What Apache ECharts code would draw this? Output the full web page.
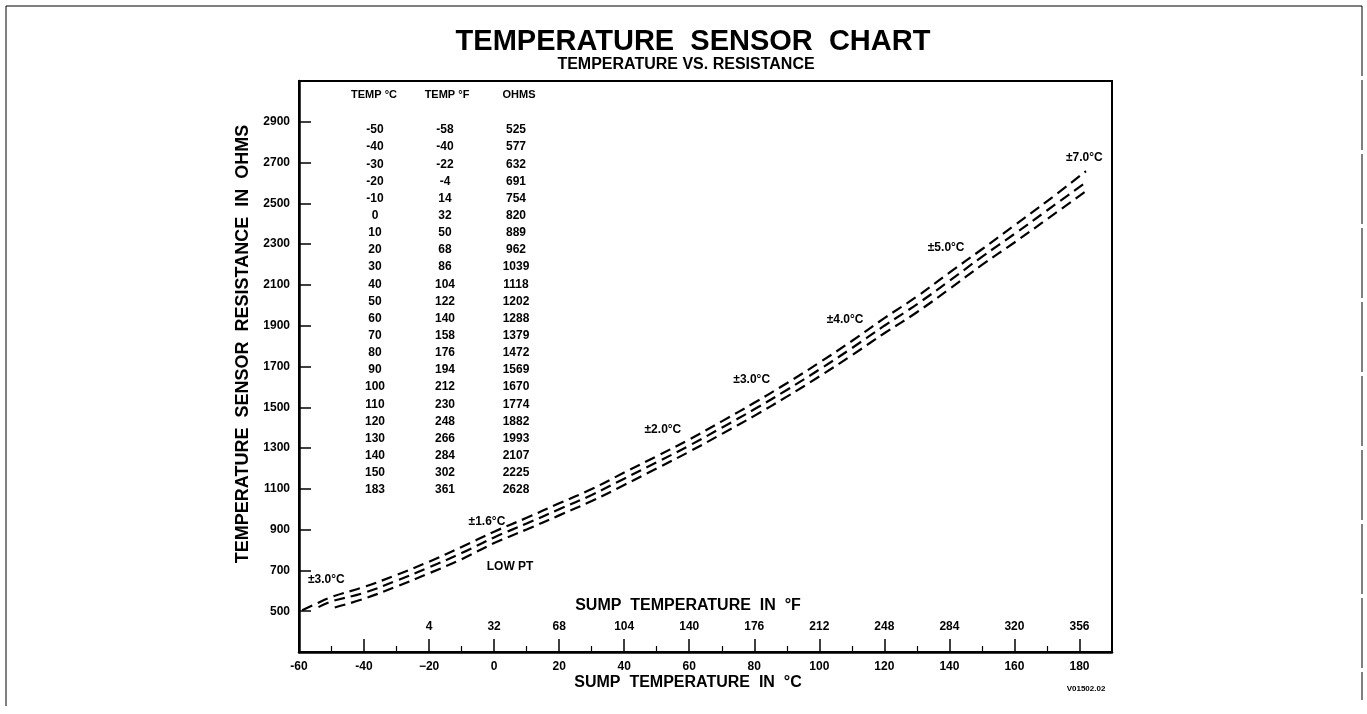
<!DOCTYPE html>
<html>
<head>
<meta charset="utf-8">
<script src="https://cdn.jsdelivr.net/npm/echarts@6/dist/echarts.min.js"></script>
<style>
html,body{margin:0;padding:0;background:#fff;}
#chart{width:1367px;height:714px;}
</style>
</head>
<body>
<div id="chart"></div>
<script>
// ---- Table data ----
const tableTempC = [-50,-40,-30,-20,-10,0,10,20,30,40,50,60,70,80,90,100,110,120,130,140,150,183];
const tableTempF = [-58,-40,-22,-4,14,32,50,68,86,104,122,140,158,176,194,212,230,248,266,284,302,361];
const tableOhms  = [525,577,632,691,754,820,889,962,1039,1118,1202,1288,1379,1472,1569,1670,1774,1882,1993,2107,2225,2628];

// ---- Curves (°C, ohms) ----
const upperT = [-59,-55,-50,-40,-30,-20,-10,0,10,20,30,40,50,60,70,80,90,100,110,120,130,140,150,160,170,182];
const upperR = [505,535,570,619,678,743,815,890,958,1029,1099,1180,1260,1342,1431,1522,1618,1719,1825,1937,2043,2160,2275,2392,2510,2658];
const midT = [-54,-50,-40,-30,-20,-10,0,10,20,30,40,50,60,70,80,90,100,110,120,130,140,150,160,170,182];
const midR = [520,548,590,650,715,785,862,930,1000,1070,1150,1230,1312,1400,1490,1585,1685,1790,1900,2005,2120,2238,2350,2465,2604];
const lowerT = [-49,-40,-30,-20,-10,0,10,20,30,40,50,60,70,80,90,100,110,120,130,140,150,160,170,182];
const lowerR = [518,561,621,686,755,834,901,970,1040,1119,1200,1282,1369,1458,1552,1651,1755,1863,1966,2080,2198,2308,2422,2560];

// ---- Tolerance annotations ----
const annoText = ['±3.0°C','±1.6°C','LOW PT','±2.0°C','±3.0°C','±4.0°C','±5.0°C','±7.0°C'];
const annoTemp = [-51.6,-2.2,4.9,51.9,79.2,107.9,139,181.5];
const annoOhm  = [655,941,720,1390,1635,1928,2281,2725];

// ---- Fahrenheit scale labels (at Celsius tick positions) ----
const fTickC = [-20,0,20,40,60,80,100,120,140,160,180];
const fTickLabels = ['4','32','68','104','140','176','212','248','284','320','356'];

const FONT = "'Liberation Sans', Arial, Helvetica, sans-serif";
const zip = (a,b) => a.map((v,i)=>[v,b[i]]);

const chart = echarts.init(document.getElementById('chart'));

const dashStyle = {color:'#000', width:2.2, type:[11,6]};

const tableGraphics = [];
const colX = [375, 445, 516];
const headerX = [374, 447, 519];
const headers = ['TEMP °C','TEMP °F','OHMS'];
const cols = [tableTempC, tableTempF, tableOhms];
for (let c=0;c<3;c++){
  tableGraphics.push({type:'text', x:headerX[c], y:95, style:{text:headers[c], font:"bold 11px "+FONT, fill:'#000', textAlign:'center', textVerticalAlign:'middle'}});
  tableGraphics.push({type:'text', x:colX[c], y:121.4, style:{text:cols[c].join('\n'), font:"bold 12px "+FONT, lineHeight:17.14, fill:'#000', textAlign:'center', textVerticalAlign:'top'}});
}

const option = {
  backgroundColor:'#fff',
  animation:false,
  grid:{left:299, right:255, top:81, bottom:62, show:true, borderColor:'#000', borderWidth:2, backgroundColor:'transparent'},
  xAxis:[{
    type:'value', min:-60, max:190, interval:20,
    axisLine:{show:true, onZero:false, lineStyle:{color:'#000', width:2.5}},
    axisTick:{show:true, inside:true, length:13, lineStyle:{color:'#000', width:1.5}},
    minorTick:{show:true, splitNumber:2, length:6, lineStyle:{color:'#000', width:1.2}},
    splitLine:{show:false},
    axisLabel:{show:true, margin:9, color:'#000', fontFamily:FONT, fontWeight:'bold', fontSize:12, showMaxLabel:false,
      formatter:(v)=> (v===-20 ? '\u221220' : String(v))}
  },{
    type:'value', min:-60, max:190, interval:20, position:'bottom',
    axisLine:{show:false}, axisTick:{show:false}, splitLine:{show:false},
    axisLabel:{show:true, inside:true, margin:19, color:'#000', fontFamily:FONT, fontWeight:'bold', fontSize:12,
      formatter:(v)=>{const i=fTickC.indexOf(v); return i>=0 ? fTickLabels[i] : '';}}
  }],
  yAxis:{
    type:'value', min:300, max:3100, interval:200,
    axisLine:{show:true, onZero:false, lineStyle:{color:'#000', width:2.5}},
    axisTick:{show:true, inside:true, length:12, lineStyle:{color:'#000', width:1.5}},
    splitLine:{show:false},
    axisLabel:{show:true, margin:9, color:'#000', fontFamily:FONT, fontWeight:'bold', fontSize:12, showMinLabel:false, showMaxLabel:false,
      formatter:(v)=>String(v)}
  },
  series:[
    {type:'line', name:'upper', data:zip(upperT,upperR), smooth:0.4, showSymbol:false, lineStyle:dashStyle, silent:true},
    {type:'line', name:'nominal', data:zip(midT,midR), smooth:0.4, showSymbol:false, lineStyle:dashStyle, silent:true},
    {type:'line', name:'lower', data:zip(lowerT,lowerR), smooth:0.4, showSymbol:false, lineStyle:dashStyle, silent:true},
    {type:'scatter', name:'tolerance', symbolSize:0, silent:true, itemStyle:{opacity:1},
      data:annoText.map((t,i)=>({value:[annoTemp[i], annoOhm[i]], name:t})),
      label:{show:true, position:'inside', opacity:1, formatter:(p)=>p.name, color:'#000', fontFamily:FONT, fontWeight:'bold', fontSize:12}}
  ],
  graphic:[
    {type:'text', x:693, y:42, style:{text:'TEMPERATURE  SENSOR  CHART', font:"bold 29px "+FONT, fill:'#000', textAlign:'center', textVerticalAlign:'middle'}},
    {type:'text', x:686, y:65, style:{text:'TEMPERATURE VS. RESISTANCE', font:"bold 16px "+FONT, fill:'#000', textAlign:'center', textVerticalAlign:'middle'}},
    {type:'text', x:243, y:344, rotation:Math.PI/2, style:{text:'TEMPERATURE  SENSOR  RESISTANCE  IN  OHMS', font:"bold 18px "+FONT, fill:'#000', textAlign:'center', textVerticalAlign:'middle'}},
    {type:'text', x:688, y:606, style:{text:'SUMP  TEMPERATURE  IN  °F', font:"bold 16px "+FONT, fill:'#000', textAlign:'center', textVerticalAlign:'middle'}},
    {type:'text', x:688, y:683, style:{text:'SUMP  TEMPERATURE  IN  °C', font:"bold 16px "+FONT, fill:'#000', textAlign:'center', textVerticalAlign:'middle'}},
    {type:'text', x:1086, y:689, style:{text:'V01502.02', font:"bold 8px "+FONT, fill:'#000', textAlign:'center', textVerticalAlign:'middle'}},
    {type:'line', shape:{x1:6,y1:6,x2:1362,y2:6}, style:{stroke:'#000', lineWidth:1}},
    {type:'line', shape:{x1:6,y1:6,x2:6,y2:706}, style:{stroke:'#000', lineWidth:1}},
    {type:'line', shape:{x1:1362,y1:6,x2:1362,y2:700}, style:{stroke:'#000', lineWidth:1, lineDash:[70,4]}}
  ].concat(tableGraphics)
};
chart.setOption(option);
</script>
</body>
</html>
